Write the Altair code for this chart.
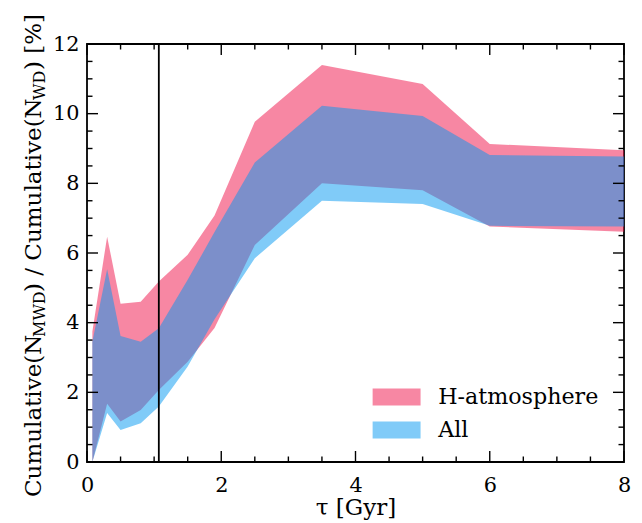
import altair as alt
import pandas as pd

# ---- data ----
tau = [0.08, 0.3, 0.5, 0.8, 1.07, 1.5, 1.9, 2.5, 3.5, 5.0, 6.0, 8.0]
h_upper = [3.75, 6.47, 4.54, 4.60, 5.18, 5.95, 7.08, 9.77, 11.40, 10.85, 9.13, 8.95]
h_lower = [0.0, 1.67, 1.16, 1.49, 2.07, 2.88, 3.85, 6.23, 8.00, 7.80, 6.76, 6.61]
all_upper = [3.45, 5.53, 3.62, 3.45, 3.84, 5.23, 6.60, 8.60, 10.23, 9.93, 8.81, 8.77]
all_lower = [0.0, 1.41, 0.92, 1.11, 1.59, 2.74, 4.10, 5.85, 7.50, 7.41, 6.78, 6.76]
series_names = ["H-atmosphere", "All"]
series_colors = ["#EF0F47", "#0197F1"]
vline_tau = [1.07]
x_major = [0, 2, 4, 6, 8]
x_minor = [0.5, 1, 1.5, 2.5, 3, 3.5, 4.5, 5, 5.5, 6.5, 7, 7.5]
y_major = [0, 2, 4, 6, 8, 10, 12]
y_minor = [0.5, 1, 1.5, 2.5, 3, 3.5, 4.5, 5, 5.5, 6.5, 7, 7.5, 8.5, 9, 9.5, 10.5, 11, 11.5]

W, H = 537, 418
FONT = "DejaVu Serif"
FS_TICK = 20.8
FS_TITLE = 23
FS_SUB = 16
FS_LEG = 22.2

df = pd.concat([
    pd.DataFrame({"tau": tau, "upper": h_upper, "lower": h_lower, "series": series_names[0]}),
    pd.DataFrame({"tau": tau, "upper": all_upper, "lower": all_lower, "series": series_names[1]}),
])

xscale = alt.Scale(domain=[0, 8], nice=False, zero=False)
yscale = alt.Scale(domain=[0, 12], nice=False, zero=False)

xaxis = alt.Axis(values=x_major, format="d", ticks=False, tickSize=0, domain=False, grid=False,
                 labelFont=FONT, labelFontSize=FS_TICK, labelColor="black", labelPadding=13,
                 labelFlush=False, labelOverlap=False,
                 title="τ [Gyr]", titleFont=FONT, titleFontSize=FS_TITLE, titleFontWeight="normal",
                 titleColor="black", titlePadding=2)
yaxis = alt.Axis(values=y_major, format="d", ticks=False, tickSize=0, domain=False, grid=False,
                 labelFont=FONT, labelFontSize=FS_TICK, labelColor="black", labelPadding=8,
                 labelFlush=False, labelOverlap=False, title="")

legend = alt.Legend(orient="none", legendX=298.5, legendY=342, padding=0,
                    symbolType="M-2.82,-1L2.82,-1L2.82,1L-2.82,1Z", symbolSize=289,
                    symbolOpacity=0.5, symbolStrokeWidth=0, symbolOffset=0,
                    labelFont=FONT, labelFontSize=FS_LEG, labelColor="black", labelOffset=30.5,
                    labelLimit=400, rowPadding=10)

color = alt.Color("series:N", title=None,
                  scale=alt.Scale(domain=series_names, range=series_colors), legend=legend)


def band(name):
    return alt.Chart(df).transform_filter(alt.datum.series == name).mark_area(
        fillOpacity=0.5, interpolate="linear"
    ).encode(
        x=alt.X("tau:Q", scale=xscale, axis=xaxis),
        y=alt.Y("upper:Q", scale=yscale, axis=yaxis, stack=None),
        y2="lower:Q",
        color=color,
    )


def yticks(vals, length, side):
    d = pd.DataFrame({"v": vals})
    if side == "left":
        xe = dict(x=alt.value(0), x2=alt.value(length))
    else:
        xe = dict(x=alt.value(W - length), x2=alt.value(W))
    return alt.Chart(d).mark_rule(color="black", strokeWidth=1.4).encode(
        y=alt.Y("v:Q", scale=yscale, axis=yaxis), **xe)


def xticks(vals, length, side):
    d = pd.DataFrame({"v": vals})
    if side == "bottom":
        ye = dict(y=alt.value(H - length), y2=alt.value(H))
    else:
        ye = dict(y=alt.value(0), y2=alt.value(length))
    return alt.Chart(d).mark_rule(color="black", strokeWidth=1.4).encode(
        x=alt.X("v:Q", scale=xscale, axis=xaxis), **ye)


vline = alt.Chart(pd.DataFrame({"t": vline_tau})).mark_rule(color="black", strokeWidth=1.8).encode(
    x=alt.X("t:Q", scale=xscale, axis=xaxis), y=alt.value(0), y2=alt.value(H))

# y-axis title with subscripts, built from text pieces
one = pd.DataFrame({"k": [0]})
title_parts = [
    ("Cumulative(N", FS_TITLE, -46, 453),
    ("MWD", FS_SUB, -42, 293),
    (") / Cumulative(N", FS_TITLE, -46, 248),
    ("WD", FS_SUB, -42, 56),
    (") [%]", FS_TITLE, -46, 26),
]
title_layers = [
    alt.Chart(one).mark_text(text=t, font=FONT, fontSize=fs, angle=270, align="left",
                             baseline="alphabetic", color="black").encode(
        x=alt.value(px), y=alt.value(py))
    for (t, fs, px, py) in title_parts
]

layers = [band(series_names[0]), band(series_names[1]), vline]
for side in ("left", "right"):
    layers += [yticks(y_major, 11, side), yticks(y_minor, 5.5, side)]
for side in ("bottom", "top"):
    layers += [xticks(x_major, 11, side), xticks(x_minor, 5.5, side)]
layers += title_layers

chart = alt.layer(*layers).properties(
    width=W, height=H,
    autosize=alt.AutoSizeParams(type="none"),
    padding={"left": 79, "top": 36, "right": 8, "bottom": 60},
).configure_view(stroke="black", strokeWidth=1.8)

chart.save("out.html", embed_options={"renderer": "svg", "actions": False})
